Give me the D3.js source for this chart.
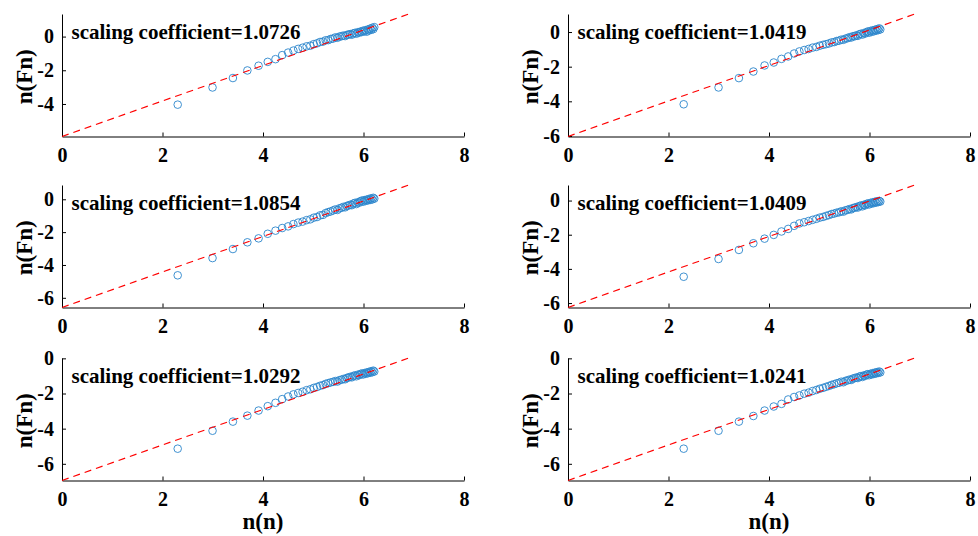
<!DOCTYPE html>
<html>
<head>
<meta charset="utf-8">
<script src="https://cdn.jsdelivr.net/npm/d3@7"></script>
<style>
  html, body { margin: 0; padding: 0; background: #fff; }
  svg { display: block; }
  text { font-family: "Liberation Serif", "Times New Roman", Times, "DejaVu Serif", serif; font-weight: bold; }
</style>
</head>
<body>
<div id="chart"></div>
<script>
// window sizes n, plotted as ln(n)
const nValues = [10, 20, 30, 40, 50, 60, 70, 80, 90, 100,
                 110, 120, 130, 140, 150, 160, 170, 180, 190, 200,
                 210, 220, 230, 240, 250, 260, 270, 280, 290, 300,
                 310, 320, 330, 340, 350, 360, 370, 380, 390, 400,
                 410, 420, 430, 440, 450, 460, 470, 480, 490, 500];

// ln(Fn)
const fnTopLeft = [-4.04, -3.02, -2.46, -2.01, -1.73, -1.50, -1.34, -1.10, -0.95, -0.83,
  -0.73, -0.66, -0.58, -0.54, -0.45, -0.40, -0.32, -0.30, -0.22, -0.21,
  -0.14, -0.12, -0.05, -0.07, 0.00, 0.02, 0.06, 0.03, 0.10, 0.12,
  0.15, 0.11, 0.19, 0.22, 0.17, 0.26, 0.23, 0.30, 0.27, 0.35,
  0.31, 0.38, 0.29, 0.42, 0.36, 0.47, 0.40, 0.52, 0.44, 0.56];
const fnTopRight = [-4.17, -3.20, -2.66, -2.28, -1.93, -1.76, -1.55, -1.41, -1.24, -1.12,
  -1.04, -0.98, -0.90, -0.86, -0.79, -0.74, -0.70, -0.66, -0.60, -0.58,
  -0.52, -0.50, -0.44, -0.45, -0.38, -0.36, -0.30, -0.32, -0.24, -0.25,
  -0.19, -0.22, -0.13, -0.10, -0.15, -0.06, -0.09, -0.01, 0.03, -0.04,
  0.06, 0.01, 0.10, 0.04, 0.13, 0.08, 0.17, 0.11, 0.21, 0.15];
const fnMidLeft = [-4.63, -3.58, -3.03, -2.62, -2.38, -2.10, -1.91, -1.75, -1.65, -1.51,
  -1.42, -1.36, -1.27, -1.22, -1.12, -1.08, -0.98, -0.95, -0.84, -0.78,
  -0.74, -0.68, -0.62, -0.65, -0.55, -0.52, -0.46, -0.49, -0.40, -0.38,
  -0.33, -0.36, -0.26, -0.22, -0.29, -0.18, -0.21, -0.12, -0.08, -0.15,
  -0.05, -0.10, -0.02, -0.07, 0.02, -0.04, 0.06, -0.01, 0.09, 0.04];
const fnMidRight = [-4.46, -3.42, -2.89, -2.50, -2.23, -2.01, -1.81, -1.66, -1.48, -1.34,
  -1.27, -1.20, -1.13, -1.07, -1.00, -0.96, -0.90, -0.85, -0.79, -0.76,
  -0.71, -0.69, -0.63, -0.65, -0.57, -0.55, -0.50, -0.52, -0.44, -0.42,
  -0.38, -0.41, -0.32, -0.29, -0.34, -0.25, -0.28, -0.20, -0.17, -0.23,
  -0.14, -0.18, -0.10, -0.15, -0.07, -0.12, -0.04, -0.09, -0.02, -0.06];
const fnBotLeft = [-5.14, -4.12, -3.60, -3.26, -2.97, -2.72, -2.53, -2.32, -2.17, -2.05,
  -1.97, -1.90, -1.81, -1.76, -1.68, -1.63, -1.56, -1.52, -1.45, -1.41,
  -1.37, -1.34, -1.29, -1.32, -1.24, -1.22, -1.17, -1.19, -1.11, -1.09,
  -1.05, -1.08, -1.00, -0.97, -1.02, -0.93, -0.96, -0.89, -0.86, -0.92,
  -0.84, -0.88, -0.80, -0.85, -0.77, -0.82, -0.73, -0.79, -0.70, -0.75];
const fnBotRight = [-5.14, -4.12, -3.60, -3.28, -2.97, -2.74, -2.59, -2.34, -2.20, -2.11,
  -2.01, -1.95, -1.86, -1.80, -1.73, -1.68, -1.62, -1.57, -1.51, -1.47,
  -1.42, -1.39, -1.33, -1.36, -1.28, -1.26, -1.21, -1.23, -1.15, -1.13,
  -1.09, -1.12, -1.04, -1.01, -1.06, -0.97, -1.00, -0.93, -0.90, -0.96,
  -0.88, -0.92, -0.84, -0.89, -0.81, -0.86, -0.78, -0.83, -0.75, -0.80];

const coefficients = ["1.0726", "1.0419", "1.0854", "1.0409", "1.0292", "1.0241"];
// y limits (the fit line runs corner to corner)
const yMins = [-5.93, -6.03, -6.59, -6.26, -6.95, -6.95];
const yMaxs = [1.34, 1.04, 0.87, 0.91, 0.02, 0.02];
const lineXEnd = 6.9;

const xTicks = [0, 2, 4, 6, 8];
const yTickCandidates = [-6, -4, -2, 0];

const series = [fnTopLeft, fnTopRight, fnMidLeft, fnMidRight, fnBotLeft, fnBotRight];

const width = 978;
const height = 536;
const colLeft = [62, 568];
const rowTop = [14, 185, 358];
const panelW = 402;
const panelH = 122.5;
const fontFamily = '"Liberation Serif", "Times New Roman", Times, "DejaVu Serif", serif';

const svg = d3.select("#chart").append("svg")
    .attr("width", width)
    .attr("height", height);

series.forEach((ys, i) => {
    const left = colLeft[i % 2];
    const top = rowTop[Math.floor(i / 2)];

    const x = d3.scaleLinear().domain([0, 8]).range([left, left + panelW]);
    const y = d3.scaleLinear().domain([yMins[i], yMaxs[i]]).range([top + panelH, top]);

    const g = svg.append("g");

    // axes, MATLAB style ticks pointing inward
    const xAxis = g.append("g")
        .attr("transform", `translate(0,${top + panelH})`)
        .call(d3.axisBottom(x).tickValues(xTicks).tickFormat(d => String(d))
            .tickSizeInner(-4).tickSizeOuter(0).tickPadding(11));
    const yAxis = g.append("g")
        .attr("transform", `translate(${left},0)`)
        .call(d3.axisLeft(y)
            .tickValues(yTickCandidates.filter(v => v >= yMins[i] && v <= yMaxs[i]))
            .tickFormat(d => String(d))
            .tickSizeInner(-4).tickSizeOuter(0).tickPadding(8));

    [xAxis, yAxis].forEach(a => {
        a.attr("font-family", null);
        a.selectAll("path, line").attr("stroke", "#000").attr("stroke-width", 1);
        a.selectAll("text")
            .style("font-family", fontFamily)
            .style("font-weight", "bold")
            .attr("font-size", 20)
            .attr("fill", "#000");
    });

    // data points
    g.append("g")
        .selectAll("circle")
        .data(ys)
        .join("circle")
        .attr("cx", (d, j) => x(Math.log(nValues[j])))
        .attr("cy", d => y(d))
        .attr("r", 3.8)
        .attr("fill", "none")
        .attr("stroke", "#2b86cc")
        .attr("stroke-width", 0.9);

    // fitted line
    const line = d3.line().x(d => x(d[0])).y(d => y(d[1]));
    g.append("path")
        .attr("d", line([[0, yMins[i]], [lineXEnd, yMaxs[i]]]))
        .attr("fill", "none")
        .attr("stroke", "#ff0000")
        .attr("stroke-width", 1.2)
        .attr("stroke-dasharray", "7,5");

    // annotation
    g.append("text")
        .attr("x", left + 9.5)
        .attr("y", top + 24.5)
        .attr("font-size", 21)
        .attr("fill", "#000")
        .text("scaling coefficient=" + coefficients[i]);

    // y label
    g.append("text")
        .attr("transform", `translate(${left - 30},${top + panelH / 2 + 1.5}) rotate(-90)`)
        .attr("text-anchor", "middle")
        .attr("font-size", 23)
        .attr("fill", "#000")
        .text("n(Fn)");

    // x label on bottom row only
    if (Math.floor(i / 2) === 2) {
        g.append("text")
            .attr("x", left + panelW / 2)
            .attr("y", 529)
            .attr("text-anchor", "middle")
            .attr("font-size", 23)
            .attr("fill", "#000")
            .text("n(n)");
    }
});
</script>
</body>
</html>
